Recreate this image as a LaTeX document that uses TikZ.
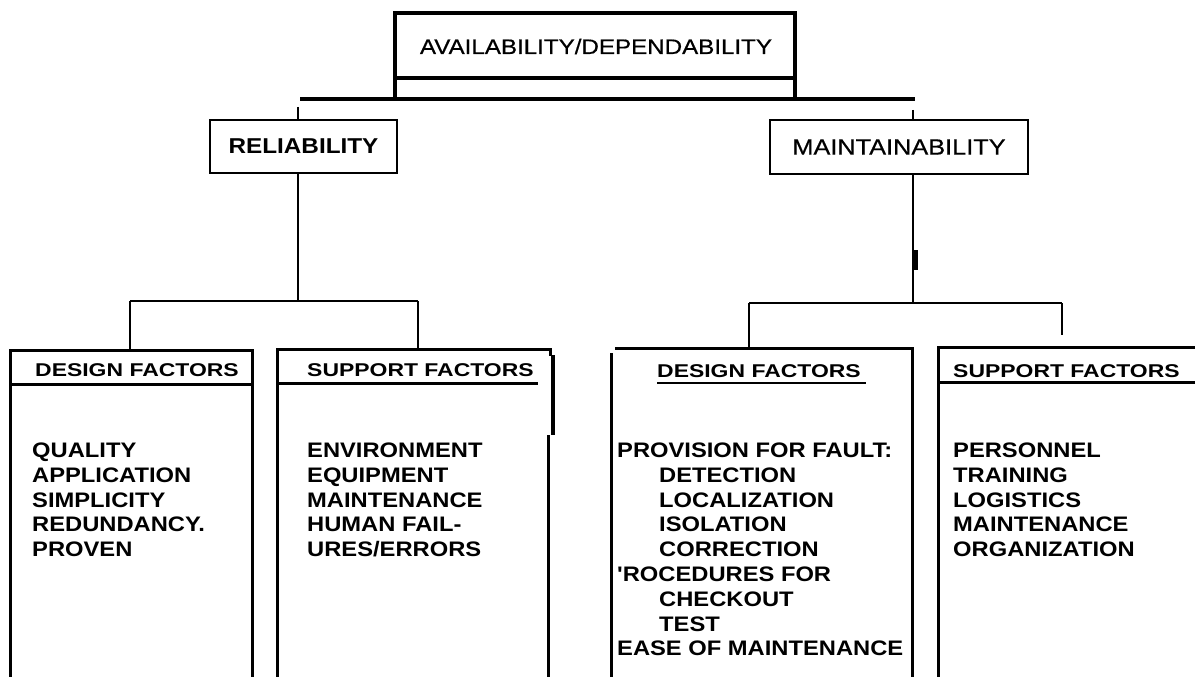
\documentclass[tikz,border=0pt]{standalone}
\usepackage{fontspec}
\newfontfamily\lsreg[FakeStretch=1.15,FakeBold=0.6]{Liberation Sans}
\newfontfamily\lsb[FakeStretch=1.13]{Liberation Sans}
\newfontfamily\lsh[FakeStretch=1.24]{Liberation Sans}
\begin{document}
\begin{tikzpicture}[x=1pt,y=-1pt,
  conn/.style={line width=2pt},
  heavy/.style={line width=3.2pt},
  boxline/.style={line width=3pt},
  item/.style={anchor=base west, inner sep=0pt, font=\lsb\bfseries\fontsize{21}{24.8}\selectfont},
  hdr/.style={anchor=base west, inner sep=0pt, font=\lsh\bfseries\fontsize{18.5}{22}\selectfont},
  lvl/.style={draw, line width=2.2pt, inner sep=0pt}
]
\useasboundingbox (0,0) rectangle (1195,677);

% top box
\node[draw, heavy, minimum width=400pt, minimum height=86pt, inner sep=0pt] (topbox) at (595,56) {};
\node[anchor=base, inner sep=0pt, font=\lsreg\fontsize{21}{24}\selectfont] (toptext) at (596,54) {AVAILABILITY/DEPENDABILITY};
\coordinate (tl) at (395,78);
\coordinate (tr) at (795,78);
\draw[heavy] (tl) -- (tr);

% main bar
\coordinate (barL) at (300,99);
\coordinate (barR) at (915,99);
\draw[heavy] (barL) -- (barR);

% second level boxes
\node[lvl, minimum width=187pt, minimum height=53pt, font=\lsb\bfseries\fontsize{21.5}{24}\selectfont] (rel) at (303.5,146.5) {RELIABILITY};
\node[lvl, minimum width=258pt, minimum height=54pt, font=\lsreg\fontsize{22}{24}\selectfont] (maint) at (899,147) {MAINTAINABILITY};

\coordinate (relstub) at (298,107);
\coordinate (maintstub) at (913,110);
\draw[conn] (relstub) -- (relstub |- rel.north);
\draw[conn] (maintstub) -- (maintstub |- maint.north);

% reliability branch
\coordinate (rj) at (298,301);
\coordinate (rjL) at (130,301);
\coordinate (rjR) at (418,301);
\draw[conn] (rel.south -| rj) -- (rj);
\draw[conn] (rjL) -- (rjR);
\coordinate (rdTop) at (130,350);
\coordinate (rsTop) at (418,350);
\draw[conn] (rjL) -- (rdTop);
\draw[conn] (rjR) -- (rsTop);

% maintainability branch
\coordinate (mj) at (913,303);
\coordinate (mjL) at (749,303);
\coordinate (mjR) at (1062,303);
\draw[conn] (maint.south -| mj) -- (mj);
\coordinate (notchA) at (916,250);
\coordinate (notchB) at (916,270);
\draw[line width=3.5pt] (notchA) -- (notchB);
\draw[conn] (mjL) -- (mjR);
\coordinate (mdTop) at (749,347);
\coordinate (msTop) at (1062,335);
\draw[conn] (mjL) -- (mdTop);
\draw[conn] (mjR) -- (msTop);

% --- Reliability design factors box
\coordinate (a1) at (10,677);
\coordinate (a2) at (10,350);
\coordinate (a3) at (252,350);
\coordinate (a4) at (252,677);
\draw[boxline] (a1) -- (a2) -- (a3) -- (a4);
\draw[boxline] (10,384) -- (252,384);
\node[hdr] (h1) at (35,376) {DESIGN FACTORS};
\foreach \t [count=\i from 0] in {QUALITY,APPLICATION,SIMPLICITY,REDUNDANCY.,PROVEN}
  \node[item] (rd\i) at (32,457.5+24.8*\i) {\t};

% --- Reliability support factors box
\coordinate (b1) at (277,677);
\coordinate (b2) at (277,351);
\coordinate (b3) at (550,349);
\coordinate (b4) at (550,356);
\draw[boxline] (b1) -- (b2) -- (b2 |- b3) -- (b3) -- (b4);
\draw[line width=4pt] (553,355) -- (553,435);
\draw[boxline] (548,435) -- (548,677);
\draw[boxline] (277,383) -- (538,383);
\node[hdr] (h2) at (307,376) {SUPPORT FACTORS};
\foreach \t [count=\i from 0] in {ENVIRONMENT,EQUIPMENT,MAINTENANCE,HUMAN FAIL-,URES/ERRORS}
  \node[item] (rs\i) at (307,457.5+24.8*\i) {\t};

% --- Maintainability design factors box
\coordinate (c1) at (611,677);
\coordinate (c2) at (611,353);
\coordinate (c3) at (615,348);
\coordinate (c4) at (912,348);
\coordinate (c5) at (912,677);
\draw[boxline] (c1) -- (c2);
\draw[boxline] (c3) -- (c4) -- (c5);
\node[hdr] (h3) at (657,377) {DESIGN FACTORS};
\draw[line width=2pt] (h3.south west) ++(0,6) -- ++(209,0);
\foreach \x/\t [count=\i from 0] in {0/PROVISION FOR FAULT:,42/DETECTION,42/LOCALIZATION,42/ISOLATION,42/CORRECTION,0/'ROCEDURES FOR,42/CHECKOUT,42/TEST,0/EASE OF MAINTENANCE}
  \node[item] (md\i) at (617+\x,457.5+24.8*\i) {\t};

% --- Maintainability support factors box
\coordinate (d1) at (938,677);
\coordinate (d2) at (938,347);
\coordinate (d3) at (1195,347);
\draw[boxline] (d1) -- (d2) -- (d3);
\draw[boxline] (938,382) -- (1195,382);
\node[hdr] (h4) at (953,377) {SUPPORT FACTORS};
\foreach \t [count=\i from 0] in {PERSONNEL,TRAINING,LOGISTICS,MAINTENANCE,ORGANIZATION}
  \node[item] (ms\i) at (953,457.5+24.8*\i) {\t};
\end{tikzpicture}
\end{document}
